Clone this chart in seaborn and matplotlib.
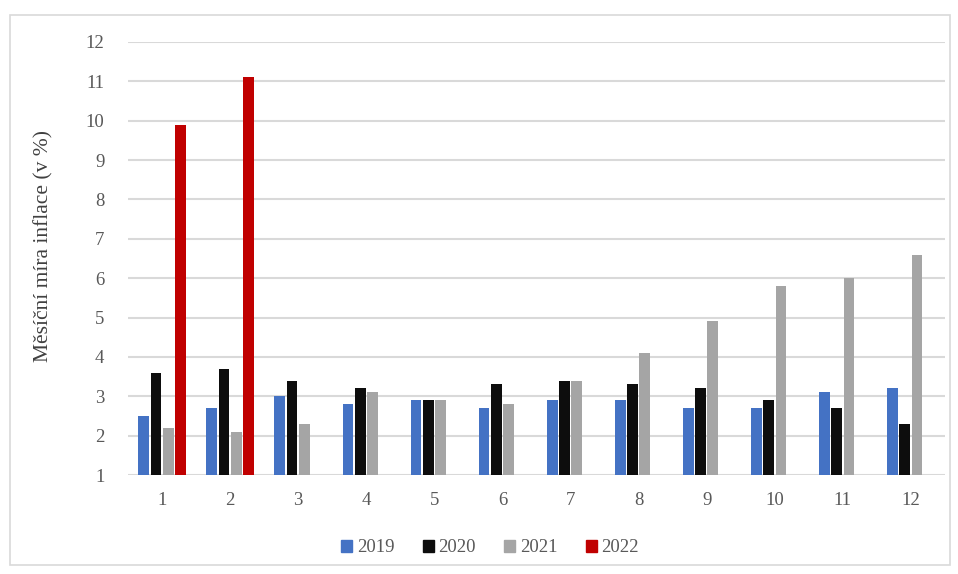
import pandas as pd
import matplotlib.pyplot as plt
import matplotlib.patches as mpatches
import seaborn as sns

# Monthly inflation (v %) per year
months = [1, 2, 3, 4, 5, 6, 7, 8, 9, 10, 11, 12]
years = ["2019", "2020", "2021", "2022"]
infl_2019 = [2.5, 2.7, 3.0, 2.8, 2.9, 2.7, 2.9, 2.9, 2.7, 2.7, 3.1, 3.2]
infl_2020 = [3.6, 3.7, 3.4, 3.2, 2.9, 3.3, 3.4, 3.3, 3.2, 2.9, 2.7, 2.3]
infl_2021 = [2.2, 2.1, 2.3, 3.1, 2.9, 2.8, 3.4, 4.1, 4.9, 5.8, 6.0, 6.6]
infl_2022 = [9.9, 11.1, None, None, None, None, None, None, None, None, None, None]
colors = ["#4472C4", "#0D0D0D", "#A5A5A5", "#C00000"]

rows = []
for year, vals in zip(years, [infl_2019, infl_2020, infl_2021, infl_2022]):
    for m, v in zip(months, vals):
        rows.append({"month": str(m), "year": year, "value": v})
df = pd.DataFrame(rows)

sns.set_theme(style="white")
plt.rcParams["font.family"] = ["Liberation Serif", "DejaVu Serif"]

fig = plt.figure(figsize=(9.58, 5.74), dpi=100)
ax = fig.add_axes([128 / 958, 1 - 475 / 574, (945 - 128) / 958, (475 - 42) / 574])

sns.barplot(data=df, x="month", y="value", hue="year", palette=colors,
            width=0.72, gap=0.12, ax=ax, legend=False, saturation=1,
            edgecolor="none")

ax.set_ylim(1, 12)
ax.set_yticks(range(1, 13))
ax.set_xlim(-0.5, 11.5)
ax.yaxis.grid(True, color="#D9D9D9", linewidth=1.5)
ax.set_axisbelow(True)
for s in ax.spines.values():
    s.set_visible(False)
ax.tick_params(axis="both", length=0, labelsize=13.5, colors="#595959")
ax.tick_params(axis="y", pad=17)
ax.tick_params(axis="x", pad=12)
ax.set_xlabel("")
ax.set_ylabel("Měsíční míra inflace (v %)", fontsize=15.5, color="#404040")
ax.yaxis.label.set_va("center")
ax.yaxis.set_label_coords((44 - 128) / 817, (475 - 246) / 433)

handles = [mpatches.Patch(color=c, label=y) for c, y in zip(colors, years)]
fig.legend(handles=handles, loc="center", bbox_to_anchor=(490 / 958, 1 - 548 / 574),
           ncol=4, frameon=False, fontsize=13.5, handlelength=0.6, handleheight=0.6,
           handletextpad=0.25, columnspacing=1.5, labelcolor="#595959")

# outer chart border
fig.patches.append(mpatches.Rectangle((10 / 958, 1 - 565 / 574), 940 / 958, 550 / 574,
                                      transform=fig.transFigure, fill=False,
                                      edgecolor="#D9D9D9", linewidth=1.2))

fig.savefig("out.png", dpi=100)
